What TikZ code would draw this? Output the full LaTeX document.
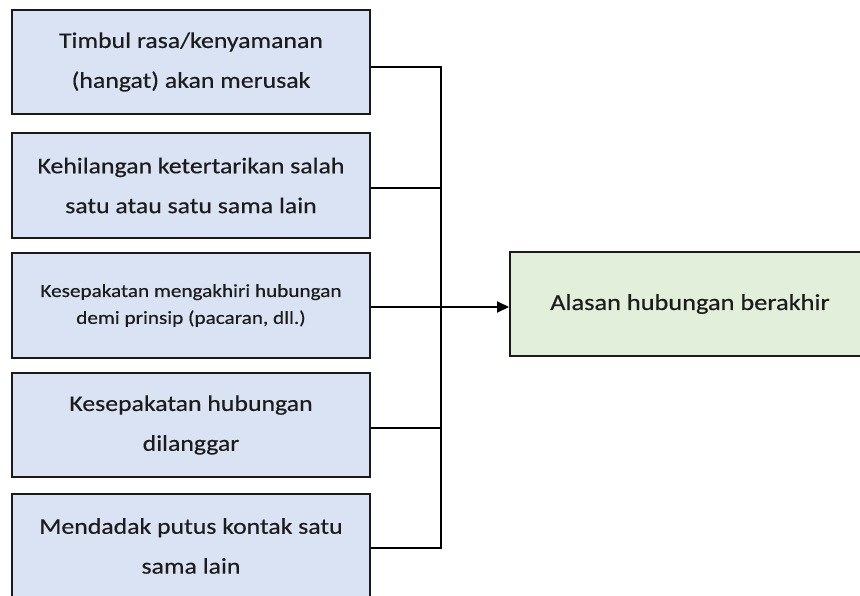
\documentclass[tikz,border=0pt]{standalone}
\usepackage{fontspec}
\setmainfont{Carlito}[FakeStretch=1.15,FakeBold=0.4]
\usetikzlibrary{arrows.meta}
\definecolor{causefill}{HTML}{DAE3F3}
\definecolor{effectfill}{HTML}{E2EFDA}
\definecolor{edge}{HTML}{1A1A1A}
\definecolor{ink}{HTML}{1C1C1C}
\begin{document}
\begin{tikzpicture}[x=1bp,y=-1bp,
  cause/.style={draw=edge, line width=2bp, fill=causefill,
    minimum width=358bp, minimum height=104bp, inner sep=0pt,
    align=center, text=ink, font=\fontsize{22.5}{40}\selectfont},
  effect/.style={draw=edge, line width=2bp, fill=effectfill,
    minimum width=360bp, minimum height=104bp, inner sep=0pt,
    align=center, text=ink, font=\fontsize{23}{40}\selectfont},
  link/.style={draw=black, line width=2bp}]
\useasboundingbox (0,0) rectangle (860,596);
\clip (0,0) rectangle (860,596);

% reasons, stacked on the left
\node[cause] (b1) at (191,62)    {Timbul rasa/kenyamanan\\(hangat) akan merusak};
\node[cause] (b2) at (191,185.5) {Kehilangan ketertarikan salah\\satu atau satu sama lain};
\node[cause, font=\fontsize{18.5}{27}\selectfont] (b3) at (191,305.5)
  {Kesepakatan mengakhiri hubungan\\demi prinsip (pacaran, dll.)};
\node[cause] (b4) at (191,425)   {Kesepakatan hubungan\\dilanggar};
\node[cause] (b5) at (191,546)   {Mendadak putus kontak satu\\sama lain};

% outcome
\node[effect] (out) at (690,304) {Alasan hubungan berakhir};

% collecting bus: every box feeds one vertical line
\coordinate (bus) at (441,0);
\draw[link] ([yshift=-5bp]b1.east) -| ([yshift=-2bp]b5.east -| bus) -- ([yshift=-2bp]b5.east);
\draw[link] ([yshift=-2.5bp]b2.east) -- ([yshift=-2.5bp]b2.east -| bus);
\draw[link] ([yshift=-3bp]b4.east) -- ([yshift=-3bp]b4.east -| bus);
\draw[link, -{Triangle[length=12bp,width=11bp]}] ([yshift=-1.5bp]b3.east) -- ([yshift=-1.5bp]b3.east -| out.west);
\end{tikzpicture}
\end{document}
